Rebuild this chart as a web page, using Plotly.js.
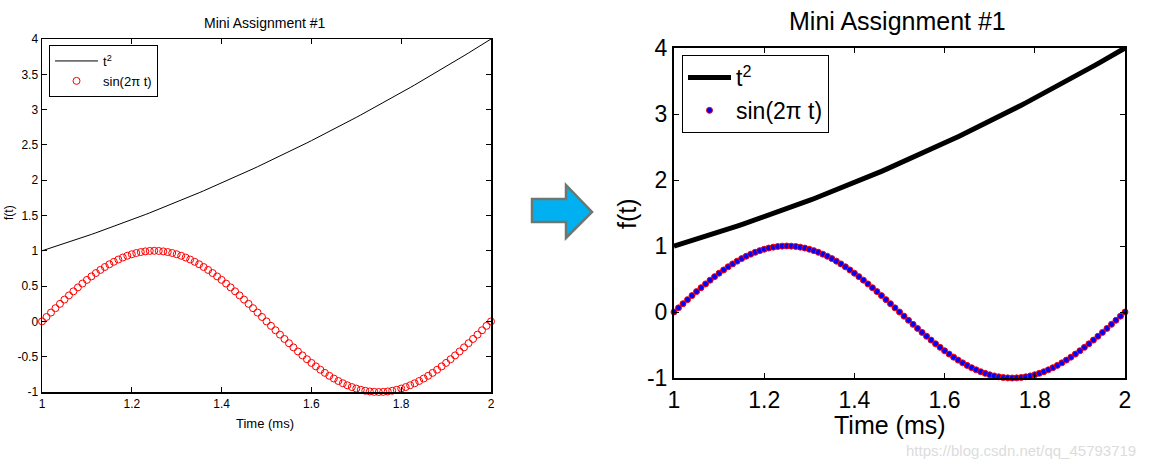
<!DOCTYPE html>
<html>
<head>
<meta charset="utf-8">
<script src="https://cdn.plot.ly/plotly-3.0.1.min.js"></script>
<style>html,body{margin:0;padding:0;background:#fff;}#chart{width:1153px;height:467px;}</style>
</head>
<body>
<div id="chart"></div>
<script>
// ---- data ----
const timeMs = [1.00,1.01,1.02,1.03,1.04,1.05,1.06,1.07,1.08,1.09,1.10,1.11,1.12,1.13,1.14,1.15,1.16,1.17,1.18,1.19,1.20,1.21,1.22,1.23,1.24,1.25,1.26,1.27,1.28,1.29,1.30,1.31,1.32,1.33,1.34,1.35,1.36,1.37,1.38,1.39,1.40,1.41,1.42,1.43,1.44,1.45,1.46,1.47,1.48,1.49,1.50,1.51,1.52,1.53,1.54,1.55,1.56,1.57,1.58,1.59,1.60,1.61,1.62,1.63,1.64,1.65,1.66,1.67,1.68,1.69,1.70,1.71,1.72,1.73,1.74,1.75,1.76,1.77,1.78,1.79,1.80,1.81,1.82,1.83,1.84,1.85,1.86,1.87,1.88,1.89,1.90,1.91,1.92,1.93,1.94,1.95,1.96,1.97,1.98,1.99,2.00];
const tSquared = [1.0000,1.0201,1.0404,1.0609,1.0816,1.1025,1.1236,1.1449,1.1664,1.1881,1.2100,1.2321,1.2544,1.2769,1.2996,1.3225,1.3456,1.3689,1.3924,1.4161,1.4400,1.4641,1.4884,1.5129,1.5376,1.5625,1.5876,1.6129,1.6384,1.6641,1.6900,1.7161,1.7424,1.7689,1.7956,1.8225,1.8496,1.8769,1.9044,1.9321,1.9600,1.9881,2.0164,2.0449,2.0736,2.1025,2.1316,2.1609,2.1904,2.2201,2.2500,2.2801,2.3104,2.3409,2.3716,2.4025,2.4336,2.4649,2.4964,2.5281,2.5600,2.5921,2.6244,2.6569,2.6896,2.7225,2.7556,2.7889,2.8224,2.8561,2.8900,2.9241,2.9584,2.9929,3.0276,3.0625,3.0976,3.1329,3.1684,3.2041,3.2400,3.2761,3.3124,3.3489,3.3856,3.4225,3.4596,3.4969,3.5344,3.5721,3.6100,3.6481,3.6864,3.7249,3.7636,3.8025,3.8416,3.8809,3.9204,3.9601,4.0000];
const sinValues = [0,0.0628,0.1253,0.1874,0.2487,0.3090,0.3681,0.4258,0.4818,0.5358,0.5878,0.6374,0.6845,0.7290,0.7705,0.8090,0.8443,0.8763,0.9048,0.9298,0.9511,0.9686,0.9823,0.9921,0.9980,1.0000,
 0.9980,0.9921,0.9823,0.9686,0.9511,0.9298,0.9048,0.8763,0.8443,0.8090,0.7705,0.7290,0.6845,0.6374,0.5878,0.5358,0.4818,0.4258,0.3681,0.3090,0.2487,0.1874,0.1253,0.0628,0,
 -0.0628,-0.1253,-0.1874,-0.2487,-0.3090,-0.3681,-0.4258,-0.4818,-0.5358,-0.5878,-0.6374,-0.6845,-0.7290,-0.7705,-0.8090,-0.8443,-0.8763,-0.9048,-0.9298,-0.9511,-0.9686,-0.9823,-0.9921,-0.9980,-1.0000,
 -0.9980,-0.9921,-0.9823,-0.9686,-0.9511,-0.9298,-0.9048,-0.8763,-0.8443,-0.8090,-0.7705,-0.7290,-0.6845,-0.6374,-0.5878,-0.5358,-0.4818,-0.4258,-0.3681,-0.3090,-0.2487,-0.1874,-0.1253,-0.0628,0];

const xTickVals = [1, 1.2, 1.4, 1.6, 1.8, 2];
const xTickText = ['1', '1.2', '1.4', '1.6', '1.8', '2'];
const leftYTickVals = [-1, -0.5, 0, 0.5, 1, 1.5, 2, 2.5, 3, 3.5, 4];
const leftYTickText = ['-1', '-0.5', '0', '0.5', '1', '1.5', '2', '2.5', '3', '3.5', '4'];
const rightYTickVals = [-1, 0, 1, 2, 3, 4];
const rightYTickText = ['-1', '0', '1', '2', '3', '4'];

const chartTitle = 'Mini Assignment #1';
const xLabel = 'Time (ms)';
const yLabel = 'f(t)';
const seriesNames = ['t<sup>2</sup>', 'sin(2\u03c0 t)'];
const watermark = 'https://blog.csdn.net/qq_45793719';

// ---- layout helpers ----
const W = 1153, H = 467;
const px = x => x / W;
const py = y => 1 - y / H;
const FONT = '"Liberation Sans", Arial, Helvetica, sans-serif';

const traces = [
  {x: timeMs, y: tSquared, type: 'scatter', mode: 'lines', name: seriesNames[0],
   line: {color: '#000', width: 1}, xaxis: 'x', yaxis: 'y', legend: 'legend'},
  {x: timeMs, y: sinValues, type: 'scatter', mode: 'markers', name: seriesNames[1],
   marker: {symbol: 'circle-open', size: 7, color: '#ff0000', line: {width: 1, color: '#ff0000'}},
   cliponaxis: false, xaxis: 'x', yaxis: 'y', legend: 'legend'},
  {x: timeMs, y: tSquared, type: 'scatter', mode: 'lines', name: seriesNames[0],
   line: {color: '#000', width: 5}, xaxis: 'x2', yaxis: 'y2', legend: 'legend2'},
  {x: timeMs, y: sinValues, type: 'scatter', mode: 'markers', name: seriesNames[1],
   marker: {symbol: 'circle', size: 6, color: '#0000ff', line: {width: 1, color: '#ff0000'}},
   cliponaxis: false, xaxis: 'x2', yaxis: 'y2', legend: 'legend2'}
];

function axis(domain, range, vals, text, fs, lw, anchor) {
  return {domain: domain, range: range, anchor: anchor, tickmode: 'array', tickvals: vals, ticktext: text,
    ticks: 'inside', ticklen: 5, tickwidth: 1, tickcolor: '#000', showline: true, linecolor: '#000', linewidth: lw,
    mirror: 'allticks', showgrid: false, zeroline: false, fixedrange: true,
    tickfont: {family: FONT, size: fs, color: '#000'}};
}

const arrowPts = [[532,199],[566,199],[566,185],[592,212],[566,238],[566,222],[532,222]];
const arrowPath = 'M' + arrowPts.map(p => px(p[0]) + ',' + py(p[1])).join(' L') + ' Z';

const layout = {
  width: W, height: H, margin: {l: 0, r: 0, t: 0, b: 0},
  paper_bgcolor: '#fff', plot_bgcolor: '#fff',
  font: {family: FONT, color: '#000'},
  xaxis: axis([px(42), px(491)], [1, 2], xTickVals, xTickText, 12, 1.5, 'y'),
  yaxis: axis([py(392), py(39)], [-1, 4], leftYTickVals, leftYTickText, 12, 1.5, 'x'),
  xaxis2: axis([px(674), px(1125)], [1, 2], xTickVals, xTickText, 23, 2, 'y2'),
  yaxis2: axis([py(378), py(48)], [-1, 4], rightYTickVals, rightYTickText, 23, 2, 'x2'),
  legend: {x: px(49), y: py(45), xanchor: 'left', yanchor: 'top', bordercolor: '#000', borderwidth: 1,
    bgcolor: '#fff', font: {family: FONT, size: 13, color: '#000'}, itemwidth: 43, tracegroupgap: 0},
  legend2: {x: px(682), y: py(55), xanchor: 'left', yanchor: 'top', bordercolor: '#000', borderwidth: 1,
    bgcolor: '#fff', font: {family: FONT, size: 23, color: '#000'}, itemwidth: 43, tracegroupgap: 0},
  showlegend: true,
  shapes: [{type: 'path', xref: 'paper', yref: 'paper', path: arrowPath,
    fillcolor: '#00b0f0', line: {color: '#6b7770', width: 2.5}}],
  annotations: [
    {text: chartTitle, xref: 'paper', yref: 'paper', x: px(265), y: py(23), showarrow: false,
     xanchor: 'center', yanchor: 'middle', font: {family: FONT, size: 14, color: '#000'}},
    {text: chartTitle, xref: 'paper', yref: 'paper', x: px(897), y: py(21), showarrow: false,
     xanchor: 'center', yanchor: 'middle', font: {family: FONT, size: 25, color: '#000'}},
    {text: xLabel, xref: 'paper', yref: 'paper', x: px(265), y: py(423), showarrow: false,
     xanchor: 'center', yanchor: 'middle', font: {family: FONT, size: 13, color: '#000'}},
    {text: xLabel, xref: 'paper', yref: 'paper', x: px(890), y: py(425), showarrow: false,
     xanchor: 'center', yanchor: 'middle', font: {family: FONT, size: 25, color: '#000'}},
    {text: yLabel, xref: 'paper', yref: 'paper', x: px(0), y: py(213), showarrow: false, textangle: -90,
     xanchor: 'left', yanchor: 'middle', font: {family: FONT, size: 12, color: '#000'}},
    {text: yLabel, xref: 'paper', yref: 'paper', x: px(627), y: py(214), showarrow: false, textangle: -90,
     xanchor: 'center', yanchor: 'middle', font: {family: FONT, size: 25, color: '#000'}},
    {text: watermark, xref: 'paper', yref: 'paper', x: px(1021), y: py(450), showarrow: false,
     xanchor: 'center', yanchor: 'middle', font: {family: FONT, size: 15, color: '#dcdcdc'}}
  ]
};

Plotly.newPlot('chart', traces, layout, {staticPlot: true, displayModeBar: false});
</script>
</body>
</html>
